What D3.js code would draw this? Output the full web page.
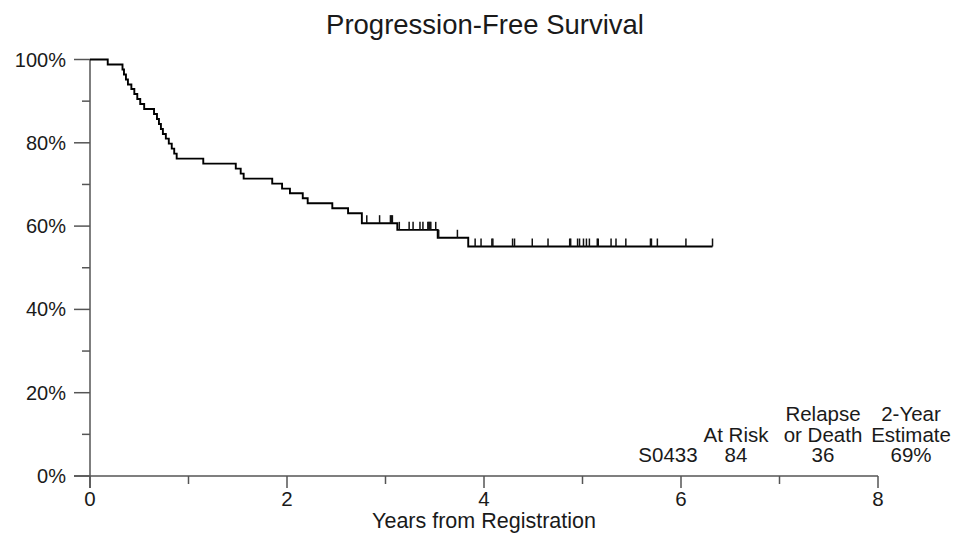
<!DOCTYPE html>
<html>
<head>
<meta charset="utf-8">
<script src="https://cdn.jsdelivr.net/npm/d3@7"></script>
<style>
  body { margin: 0; background: #fff; }
  svg { display: block; font-family: "Liberation Sans", Arial, sans-serif; }
</style>
</head>
<body>
<svg id="chart" width="965" height="537"></svg>
<script>
// Kaplan-Meier steps (years, survival %)
const stepTimes = [0, 0.18, 0.33, 0.345, 0.365, 0.385, 0.42, 0.45, 0.48, 0.51, 0.55,
  0.65, 0.68, 0.70, 0.72, 0.74, 0.77, 0.80, 0.83, 0.855, 0.88,
  1.15, 1.48, 1.53, 1.56, 1.85, 1.95, 2.03, 2.16, 2.21, 2.46, 2.62, 2.76,
  3.12, 3.53, 3.84];
const stepSurv = [100, 98.8, 97.6, 96.4, 95.2, 94.0, 92.9, 91.7, 90.5, 89.3, 88.1,
  86.9, 85.7, 84.5, 83.3, 82.1, 81.0, 79.8, 78.6, 77.4, 76.2,
  75.0, 73.8, 72.6, 71.4, 70.2, 69.0, 67.9, 66.7, 65.5, 64.3, 63.1, 60.7,
  59.1, 57.2, 55.1];
const lastFollowUp = 6.32;

// censored observations (years)
const censorTimes = [2.81, 2.94, 3.05, 3.06, 3.07, 3.14, 3.24, 3.28, 3.35, 3.38,
  3.43, 3.44, 3.45, 3.46, 3.51, 3.54, 3.73, 3.91, 3.97, 4.08, 4.09, 4.29, 4.31,
  4.49, 4.65, 4.87, 4.88, 4.95, 4.97, 5.01, 5.04, 5.07, 5.15, 5.16, 5.29, 5.34,
  5.44, 5.69, 5.70, 5.76, 6.05, 6.32];

const xMajor = [0, 2, 4, 6, 8];
const xMinor = [1, 3, 5, 7];
const yMajor = [0, 20, 40, 60, 80, 100];
const yMinor = [10, 30, 50, 70, 90];

const tableHead1 = ["", "", "Relapse", "2-Year"];
const tableHead2 = ["", "At Risk", "or Death", "Estimate"];
const tableRow = ["S0433", "84", "36", "69%"];

const svg = d3.select("#chart");
const x = d3.scaleLinear().domain([0, 8]).range([90, 878]);
const y = d3.scaleLinear().domain([0, 100]).range([476, 59.5]);

const axisColor = "#555";
const textColor = "#1a1a1a";

// title
svg.append("text")
  .attr("x", 485).attr("y", 34)
  .attr("text-anchor", "middle")
  .attr("font-size", 27.5)
  .attr("fill", textColor)
  .text("Progression-Free Survival");

// y axis
const gy = svg.append("g").attr("stroke", axisColor).attr("stroke-width", 1.5);
gy.append("line").attr("x1", x(0)).attr("x2", x(0)).attr("y1", y(100)).attr("y2", y(0) + 12);
gy.selectAll(".ymaj").data(yMajor).enter().append("line")
  .attr("x1", x(0) - 16).attr("x2", x(0))
  .attr("y1", d => y(d)).attr("y2", d => y(d));
gy.selectAll(".ymin").data(yMinor).enter().append("line")
  .attr("x1", x(0) - 8).attr("x2", x(0))
  .attr("y1", d => y(d)).attr("y2", d => y(d));

svg.selectAll(".ylab").data(yMajor).enter().append("text")
  .attr("x", 66).attr("y", d => y(d) + 7)
  .attr("text-anchor", "end")
  .attr("font-size", 20)
  .attr("fill", textColor)
  .text(d => d + "%");

// x axis
const gx = svg.append("g").attr("stroke", axisColor).attr("stroke-width", 1.5);
gx.append("line").attr("x1", x(0) - 16).attr("x2", x(8)).attr("y1", y(0)).attr("y2", y(0));
gx.selectAll(".xmaj").data(xMajor).enter().append("line")
  .attr("x1", d => x(d)).attr("x2", d => x(d))
  .attr("y1", y(0)).attr("y2", y(0) + 12);
gx.selectAll(".xmin").data(xMinor).enter().append("line")
  .attr("x1", d => x(d)).attr("x2", d => x(d))
  .attr("y1", y(0)).attr("y2", y(0) + 8);

svg.selectAll(".xlab").data(xMajor).enter().append("text")
  .attr("x", d => x(d)).attr("y", 506)
  .attr("text-anchor", "middle")
  .attr("font-size", 20.5)
  .attr("fill", textColor)
  .text(d => d);

svg.append("text")
  .attr("x", x(4)).attr("y", 528)
  .attr("text-anchor", "middle")
  .attr("font-size", 21.5)
  .attr("fill", textColor)
  .text("Years from Registration");

// survival curve
const pts = stepTimes.map((t, i) => [t, stepSurv[i]]);
pts.push([lastFollowUp, stepSurv[stepSurv.length - 1]]);
const line = d3.line().x(d => x(d[0])).y(d => y(d[1])).curve(d3.curveStepAfter);
svg.append("path")
  .attr("d", line(pts))
  .attr("fill", "none")
  .attr("stroke", "#000")
  .attr("stroke-width", 1.9);

// censor marks
const survAt = t => {
  let s = stepSurv[0];
  stepTimes.forEach((st, i) => { if (st <= t) s = stepSurv[i]; });
  return s;
};
svg.selectAll(".cens").data(censorTimes).enter().append("line")
  .attr("x1", d => x(d)).attr("x2", d => x(d))
  .attr("y1", d => y(survAt(d)))
  .attr("y2", d => y(survAt(d)) - 8)
  .attr("stroke", "#111")
  .attr("stroke-width", 1.5);

// summary table
const colX = [668, 736, 823, 911];
const rows = [[tableHead1, 421], [tableHead2, 442], [tableRow, 462]];
rows.forEach(([vals, yy]) => {
  svg.selectAll(null).data(vals).enter().append("text")
    .attr("x", (d, i) => colX[i]).attr("y", yy)
    .attr("text-anchor", "middle")
    .attr("font-size", 20.5)
    .attr("fill", textColor)
    .text(d => d);
});
</script>
</body>
</html>
